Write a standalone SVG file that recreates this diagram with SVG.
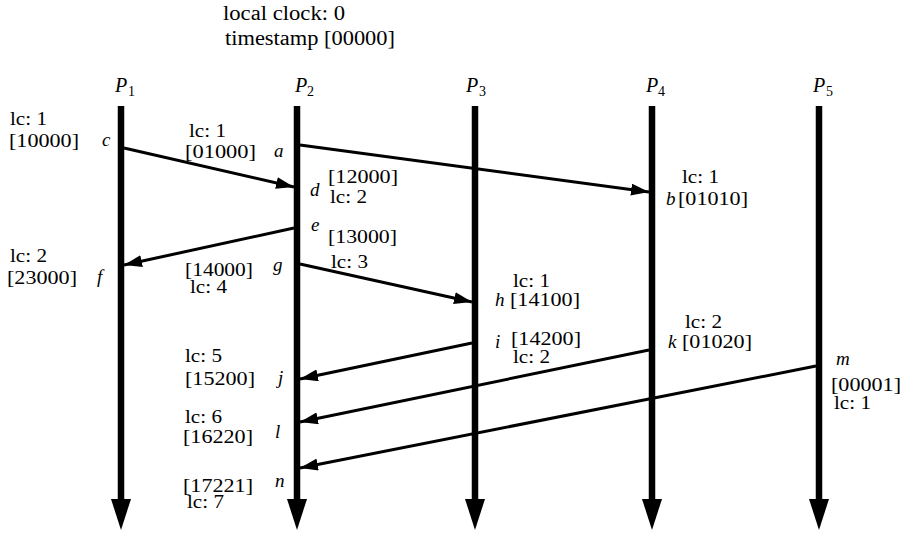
<svg xmlns="http://www.w3.org/2000/svg" width="905" height="533" viewBox="0 0 905 533" font-family="Liberation Serif, DejaVu Serif, serif">
<defs>
<style>
text{font-family:'Liberation Serif','DejaVu Serif',serif}
.t{font-size:19px;fill:#000}
.h{font-size:20px}
.ev{font-style:italic}
.pn{font-style:italic;font-size:20px;fill:#000}
.sub{font-size:14px;fill:#000}
.proc{stroke:#000;stroke-width:6.5;fill:none}
.msg{stroke:#000;stroke-width:3;fill:none;marker-end:url(#ah)}
</style>
<marker id="ah" markerUnits="userSpaceOnUse" markerWidth="18" markerHeight="12" refX="18" refY="6" orient="auto">
<path d="M0,0 L18,6 L0,12 z" fill="#000"/>
</marker>
</defs>
<rect width="905" height="533" fill="#fff"/>

<g id="header">
<text class="t h" x="223" y="20" textLength="122" lengthAdjust="spacingAndGlyphs">local clock: 0</text>
<text class="t h" x="225" y="45" textLength="170" lengthAdjust="spacingAndGlyphs">timestamp [00000]</text>
</g>

<g id="P1">
<text class="pn" x="115" y="92">P</text><text class="sub" x="128" y="96">1</text>
<line class="proc" x1="121" y1="106" x2="121" y2="501"/>
<polygon points="111,499 131,499 121,530" fill="#000"/>
</g>
<g id="P2">
<text class="pn" x="295" y="92">P</text><text class="sub" x="307" y="96">2</text>
<line class="proc" x1="297" y1="106" x2="297" y2="501"/>
<polygon points="287,499 307,499 297,530" fill="#000"/>
</g>
<g id="P3">
<text class="pn" x="466" y="92">P</text><text class="sub" x="479" y="96">3</text>
<line class="proc" x1="475" y1="106" x2="475" y2="501"/>
<polygon points="465,499 485,499 475,530" fill="#000"/>
</g>
<g id="P4">
<text class="pn" x="646" y="92">P</text><text class="sub" x="658" y="96">4</text>
<line class="proc" x1="652" y1="106" x2="652" y2="501"/>
<polygon points="642,499 662,499 652,530" fill="#000"/>
</g>
<g id="P5">
<text class="pn" x="813" y="92">P</text><text class="sub" x="826" y="96">5</text>
<line class="proc" x1="819" y1="106" x2="819" y2="501"/>
<polygon points="809,499 829,499 819,530" fill="#000"/>
</g>

<g id="connectors">
<line class="msg" x1="124" y1="148" x2="294" y2="187"/>
<line class="msg" x1="300" y1="145" x2="649" y2="192"/>
<line class="msg" x1="294" y1="228" x2="124" y2="265"/>
<line class="msg" x1="300" y1="264" x2="472" y2="302"/>
<line class="msg" x1="472" y1="343" x2="300" y2="379"/>
<line class="msg" x1="649" y1="350" x2="300" y2="422"/>
<line class="msg" x1="816" y1="366" x2="300" y2="468"/>
</g>

<g id="event-c">
<text class="t" x="10" y="125" textLength="37" lengthAdjust="spacingAndGlyphs">lc: 1</text>
<text class="t" x="9" y="147" textLength="70" lengthAdjust="spacingAndGlyphs">[10000]</text>
<text class="t ev" x="102" y="146">c</text>
</g>
<g id="event-a">
<text class="t" x="189" y="137" textLength="37" lengthAdjust="spacingAndGlyphs">lc: 1</text>
<text class="t" x="185" y="158" textLength="71" lengthAdjust="spacingAndGlyphs">[01000]</text>
<text class="t ev" x="274" y="157">a</text>
</g>
<g id="event-d">
<text class="t ev" x="310" y="196">d</text>
<text class="t" x="328" y="183" textLength="70" lengthAdjust="spacingAndGlyphs">[12000]</text>
<text class="t" x="330" y="203" textLength="37" lengthAdjust="spacingAndGlyphs">lc: 2</text>
</g>
<g id="event-b">
<text class="t" x="682" y="183" textLength="37" lengthAdjust="spacingAndGlyphs">lc: 1</text>
<text class="t ev" x="666" y="205">b</text>
<text class="t" x="678" y="205" textLength="70" lengthAdjust="spacingAndGlyphs">[01010]</text>
</g>
<g id="event-e">
<text class="t ev" x="311" y="231">e</text>
<text class="t" x="328" y="243" textLength="69" lengthAdjust="spacingAndGlyphs">[13000]</text>
</g>
<g id="event-f">
<text class="t" x="10" y="262" textLength="37" lengthAdjust="spacingAndGlyphs">lc: 2</text>
<text class="t" x="7" y="284" textLength="70" lengthAdjust="spacingAndGlyphs">[23000]</text>
<text class="t ev" x="97" y="283">f</text>
</g>
<g id="event-g">
<text class="t" x="185" y="276" textLength="68" lengthAdjust="spacingAndGlyphs">[14000]</text>
<text class="t" x="190" y="293" textLength="37" lengthAdjust="spacingAndGlyphs">lc: 4</text>
<text class="t ev" x="273" y="271">g</text>
<text class="t" x="331" y="268" textLength="37" lengthAdjust="spacingAndGlyphs">lc: 3</text>
</g>
<g id="event-h">
<text class="t" x="513" y="287" textLength="37" lengthAdjust="spacingAndGlyphs">lc: 1</text>
<text class="t ev" x="495" y="306">h</text>
<text class="t" x="510" y="306" textLength="70" lengthAdjust="spacingAndGlyphs">[14100]</text>
</g>
<g id="event-i">
<text class="t ev" x="495" y="348">i</text>
<text class="t" x="511" y="345" textLength="70" lengthAdjust="spacingAndGlyphs">[14200]</text>
<text class="t" x="513" y="363" textLength="37" lengthAdjust="spacingAndGlyphs">lc: 2</text>
</g>
<g id="event-k">
<text class="t" x="685" y="328" textLength="37" lengthAdjust="spacingAndGlyphs">lc: 2</text>
<text class="t ev" x="668" y="348">k</text>
<text class="t" x="682" y="348" textLength="70" lengthAdjust="spacingAndGlyphs">[01020]</text>
</g>
<g id="event-m">
<text class="t ev" x="836" y="365">m</text>
<text class="t" x="831" y="391" textLength="70" lengthAdjust="spacingAndGlyphs">[00001]</text>
<text class="t" x="834" y="409" textLength="37" lengthAdjust="spacingAndGlyphs">lc: 1</text>
</g>
<g id="event-j">
<text class="t" x="185" y="362" textLength="37" lengthAdjust="spacingAndGlyphs">lc: 5</text>
<text class="t" x="185" y="385" textLength="70" lengthAdjust="spacingAndGlyphs">[15200]</text>
<text class="t ev" x="278" y="384">j</text>
</g>
<g id="event-l">
<text class="t" x="185" y="423" textLength="37" lengthAdjust="spacingAndGlyphs">lc: 6</text>
<text class="t" x="183" y="443" textLength="70" lengthAdjust="spacingAndGlyphs">[16220]</text>
<text class="t ev" x="275" y="438">l</text>
</g>
<g id="event-n">
<text class="t" x="183" y="492" textLength="70" lengthAdjust="spacingAndGlyphs">[17221]</text>
<text class="t" x="187" y="508" textLength="37" lengthAdjust="spacingAndGlyphs">lc: 7</text>
<text class="t ev" x="275" y="487">n</text>
</g>
</svg>
